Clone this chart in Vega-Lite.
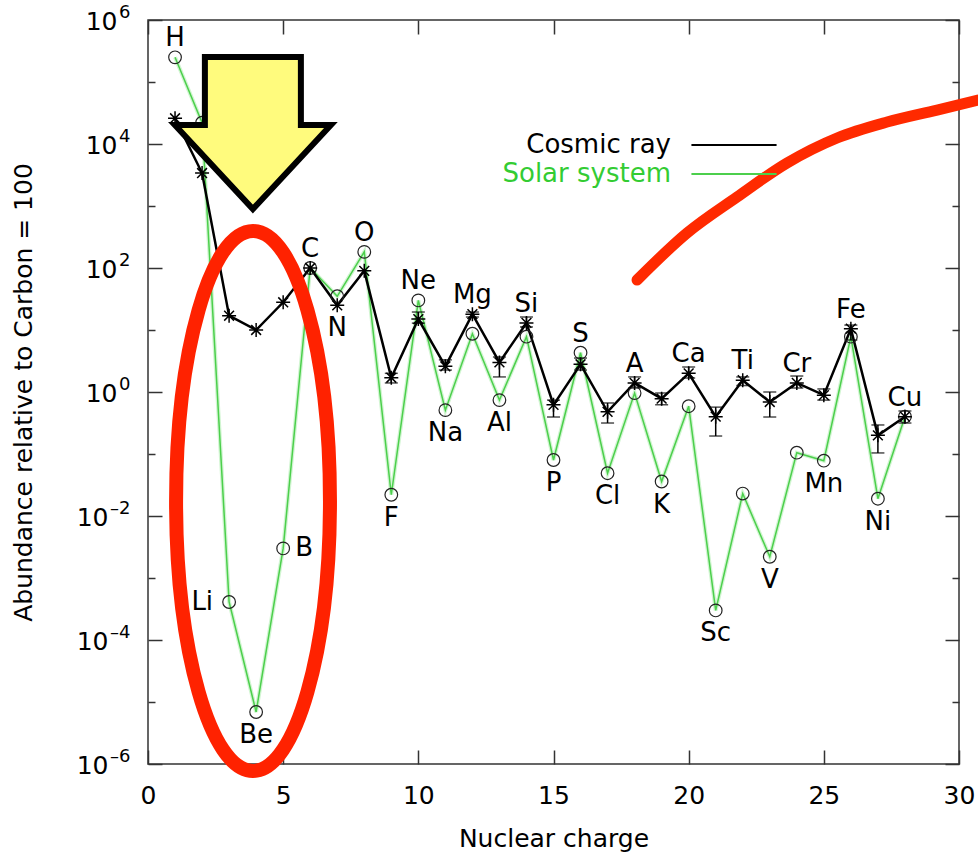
{
  "$schema": "https://vega.github.io/schema/vega-lite/v6.json",
  "width": 811,
  "height": 744,
  "autosize": {"type": "none"},
  "padding": {"left": 148, "top": 20, "right": 19, "bottom": 93},
  "background": "white",
  "datasets": {
    "elements": [
      {"Z": 1, "el": "H", "solar": 250000, "cosmic": 26000, "lo": null, "hi": null, "side": "above"},
      {"Z": 2, "el": "He", "solar": 22000, "cosmic": 3400, "lo": null, "hi": null, "side": "none"},
      {"Z": 3, "el": "Li", "solar": 0.00041, "cosmic": 17, "lo": null, "hi": null, "side": "left"},
      {"Z": 4, "el": "Be", "solar": 0.0000069, "cosmic": 10, "lo": null, "hi": null, "side": "below"},
      {"Z": 5, "el": "B", "solar": 0.003, "cosmic": 28, "lo": null, "hi": null, "side": "right"},
      {"Z": 6, "el": "C", "solar": 100, "cosmic": 100, "lo": null, "hi": null, "side": "above"},
      {"Z": 7, "el": "N", "solar": 35, "cosmic": 25, "lo": null, "hi": null, "side": "below"},
      {"Z": 8, "el": "O", "solar": 182, "cosmic": 90, "lo": null, "hi": null, "side": "above"},
      {"Z": 9, "el": "F", "solar": 0.022, "cosmic": 1.7, "lo": 1.4, "hi": 2.0, "side": "below"},
      {"Z": 10, "el": "Ne", "solar": 30, "cosmic": 15, "lo": 12.9, "hi": 19.5, "side": "above"},
      {"Z": 11, "el": "Na", "solar": 0.51, "cosmic": 2.6, "lo": 2.26, "hi": 3.3, "side": "below"},
      {"Z": 12, "el": "Mg", "solar": 8.7, "cosmic": 18, "lo": 16.2, "hi": 19.5, "side": "above"},
      {"Z": 13, "el": "Al", "solar": 0.74, "cosmic": 3.0, "lo": 1.75, "hi": 3.67, "side": "below"},
      {"Z": 14, "el": "Si", "solar": 7.8, "cosmic": 13, "lo": 11.2, "hi": 16.2, "side": "above"},
      {"Z": 15, "el": "P", "solar": 0.08, "cosmic": 0.62, "lo": 0.395, "hi": 0.74, "side": "below"},
      {"Z": 16, "el": "S", "solar": 4.3, "cosmic": 2.8, "lo": 2.26, "hi": 3.53, "side": "above"},
      {"Z": 17, "el": "Cl", "solar": 0.049, "cosmic": 0.48, "lo": 0.316, "hi": 0.665, "side": "below"},
      {"Z": 18, "el": "A", "solar": 0.96, "cosmic": 1.4, "lo": 1.16, "hi": 1.75, "side": "above"},
      {"Z": 19, "el": "K", "solar": 0.036, "cosmic": 0.78, "lo": 0.62, "hi": 0.96, "side": "below"},
      {"Z": 20, "el": "Ca", "solar": 0.59, "cosmic": 2.0, "lo": 1.68, "hi": 2.53, "side": "above"},
      {"Z": 21, "el": "Sc", "solar": 0.0003, "cosmic": 0.40, "lo": 0.195, "hi": 0.57, "side": "below"},
      {"Z": 22, "el": "Ti", "solar": 0.023, "cosmic": 1.55, "lo": 1.27, "hi": 1.75, "side": "above"},
      {"Z": 23, "el": "V", "solar": 0.0022, "cosmic": 0.69, "lo": 0.395, "hi": 1.0, "side": "below"},
      {"Z": 24, "el": "Cr", "solar": 0.105, "cosmic": 1.4, "lo": 1.16, "hi": 1.81, "side": "above"},
      {"Z": 25, "el": "Mn", "solar": 0.078, "cosmic": 0.89, "lo": 0.74, "hi": 1.12, "side": "below"},
      {"Z": 26, "el": "Fe", "solar": 7.8, "cosmic": 10.5, "lo": 6.9, "hi": 12.0, "side": "above"},
      {"Z": 27, "el": "Ni", "solar": 0.019, "cosmic": 0.20, "lo": 0.104, "hi": 0.294, "side": "below"},
      {"Z": 28, "el": "Cu", "solar": 0.40, "cosmic": 0.40, "lo": 0.316, "hi": 0.494, "side": "above"}
    ],
    "annotations": [
      {"item": "ellipse", "Z": 3.885, "v": 0.01746},
      {"item": "arrow", "Z": 3.88, "v": 16800}
    ],
    "scribble": [
      {"Z": 18.09, "v": 64},
      {"Z": 19.94, "v": 367},
      {"Z": 21.79, "v": 1397},
      {"Z": 23.64, "v": 4943},
      {"Z": 25.49, "v": 12500},
      {"Z": 27.34, "v": 22600},
      {"Z": 29.19, "v": 35300},
      {"Z": 30.71, "v": 51300}
    ]
  },
  "config": {
    "view": {"stroke": "#333333", "strokeWidth": 1.5},
    "axis": {
      "domain": false, "grid": false, "zindex": 1,
      "labelFont": "DejaVu Sans", "labelFontSize": 25, "labelColor": "#000000",
      "titleFont": "DejaVu Sans", "titleFontSize": 25, "titleFontWeight": "normal", "titleColor": "#000000",
      "tickColor": "#333333", "tickWidth": 1.5,
      "labelFlush": false, "labelOverlap": false, "labelBound": false
    },
    "text": {"font": "DejaVu Sans"}
  },
  "resolve": {"axis": {"x": "independent", "y": "independent"}},
  "layer": [
    {
      "data": {"name": "elements"},
      "mark": {"type": "line", "color": "#66dd66", "strokeWidth": 4, "opacity": 0.3},
      "encoding": {
        "x": {"field": "Z", "type": "quantitative", "scale": {"domain": [0, 30], "nice": false, "zero": false},
          "axis": {"orient": "bottom", "values": [0, 5, 10, 15, 20, 25, 30], "tickSize": -14, "labelPadding": 33, "title": "Nuclear charge", "titlePadding": 18}},
        "y": {"field": "solar", "type": "quantitative", "scale": {"type": "log", "domain": [0.000001, 1000000], "nice": false},
          "axis": {"orient": "left",
            "values": [0.000001, 0.00001, 0.0001, 0.001, 0.01, 0.1, 1, 10, 100, 1000, 10000, 100000, 1000000],
            "tickSize": {"condition": {"test": "round(log(datum.value)/LN10) % 2 == 0", "value": -14}, "value": -7},
            "labels": false, "title": null}}
      }
    },
    {
      "data": {"name": "elements"},
      "mark": {"type": "line", "strokeWidth": 1.5},
      "encoding": {
        "x": {"field": "Z", "type": "quantitative", "scale": {"domain": [0, 30], "nice": false, "zero": false}, "axis": null},
        "y": {"field": "solar", "type": "quantitative", "scale": {"type": "log", "domain": [0.000001, 1000000], "nice": false},
          "axis": {"orient": "left",
            "values": [0.000001, 0.0001, 0.01, 1, 100, 10000, 1000000],
            "ticks": false, "tickSize": 0,
            "labelExpr": "'10'",
            "labelPadding": {"condition": {"test": "datum.value < 0.5", "value": 40}, "value": 31},
            "labelBaseline": "middle", "labelOffset": 1,
            "title": "Abundance relative to Carbon = 100", "titlePadding": 40}},
        "color": {"datum": "Solar system",
          "scale": {"domain": ["Cosmic ray", "Solar system"], "range": ["#000000", "#4ccf4c"]},
          "legend": {"orient": "none", "legendX": 573, "legendY": 112, "title": null, "padding": 0,
            "symbolType": "M-5,0L5,0", "symbolSize": 290, "symbolStrokeWidth": 2,
            "labelFont": "DejaVu Sans", "labelFontSize": 26, "labelLimit": 400,
            "labelAlign": "right", "labelOffset": -76, "rowPadding": 3,
            "encode": {"labels": {"update": {"fill": {"signal": "datum.label == 'Solar system' ? '#33cc33' : '#000000'"}}}}}}
      }
    },
    {
      "data": {"name": "elements"},
      "mark": {"type": "line", "strokeWidth": 2.5},
      "encoding": {
        "x": {"field": "Z", "type": "quantitative", "scale": {"domain": [0, 30], "nice": false, "zero": false},
          "axis": {"orient": "top", "values": [0, 5, 10, 15, 20, 25, 30], "tickSize": -14, "labels": false, "title": null}},
        "y": {"field": "cosmic", "type": "quantitative", "scale": {"type": "log", "domain": [0.000001, 1000000], "nice": false},
          "axis": {"orient": "right",
            "values": [0.000001, 0.00001, 0.0001, 0.001, 0.01, 0.1, 1, 10, 100, 1000, 10000, 100000, 1000000],
            "tickSize": {"condition": {"test": "round(log(datum.value)/LN10) % 2 == 0", "value": -14}, "value": -7},
            "labels": false, "title": null}},
        "color": {"datum": "Cosmic ray"}
      }
    },
    {
      "data": {"name": "elements"},
      "transform": [{"filter": "datum.lo != null"}],
      "mark": {"type": "errorbar", "color": "black", "ticks": {"size": 13, "thickness": 1.5, "color": "black"}, "rule": {"strokeWidth": 1.5, "color": "black"}},
      "encoding": {
        "x": {"field": "Z", "type": "quantitative", "scale": {"domain": [0, 30], "nice": false, "zero": false}, "axis": null},
        "y": {"field": "lo", "type": "quantitative", "scale": {"type": "log", "domain": [0.000001, 1000000], "nice": false}, "axis": null},
        "y2": {"field": "hi"}
      }
    },
    {
      "data": {"name": "elements"},
      "mark": {"type": "point", "shape": "circle", "filled": false, "size": 160, "color": "#222222", "strokeWidth": 1.2, "opacity": 1},
      "encoding": {
        "x": {"field": "Z", "type": "quantitative", "scale": {"domain": [0, 30], "nice": false, "zero": false}, "axis": null},
        "y": {"field": "solar", "type": "quantitative", "scale": {"type": "log", "domain": [0.000001, 1000000], "nice": false},
          "axis": {"orient": "left",
            "values": [0.000001, 0.0001, 0.01, 1, 100, 10000, 1000000],
            "ticks": false, "tickSize": 0,
            "labelExpr": "['–6','','–4','','–2','','0','','2','','4','','6'][round(log(datum.value)/LN10)+6]",
            "labelFontSize": 18, "labelPadding": 18,
            "labelBaseline": "middle", "labelOffset": -8,
            "title": null}}
      }
    },
    {
      "data": {"name": "elements"},
      "mark": {"type": "point", "shape": "M-1,0L1,0M0,-1L0,1M-0.7,-0.7L0.7,0.7M-0.7,0.7L0.7,-0.7", "filled": false, "size": 196, "color": "#000000", "strokeWidth": 1.5, "opacity": 1},
      "encoding": {
        "x": {"field": "Z", "type": "quantitative", "scale": {"domain": [0, 30], "nice": false, "zero": false}, "axis": null},
        "y": {"field": "cosmic", "type": "quantitative", "scale": {"type": "log", "domain": [0.000001, 1000000], "nice": false}, "axis": null}
      }
    },
    {
      "data": {"name": "elements"},
      "transform": [{"filter": "datum.side == 'above'"}, {"calculate": "max(datum.solar, datum.cosmic)", "as": "anchor"}],
      "mark": {"type": "text", "font": "DejaVu Sans", "fontSize": 26, "baseline": "middle", "align": "center", "dy": -19, "color": "#000000"},
      "encoding": {
        "x": {"field": "Z", "type": "quantitative", "scale": {"domain": [0, 30], "nice": false, "zero": false}, "axis": null},
        "y": {"field": "anchor", "type": "quantitative", "scale": {"type": "log", "domain": [0.000001, 1000000], "nice": false}, "axis": null},
        "text": {"field": "el"}
      }
    },
    {
      "data": {"name": "elements"},
      "transform": [{"filter": "datum.side == 'below'"}, {"calculate": "min(datum.solar, datum.cosmic)", "as": "anchor"}],
      "mark": {"type": "text", "font": "DejaVu Sans", "fontSize": 26, "baseline": "middle", "align": "center", "dy": 23, "color": "#000000"},
      "encoding": {
        "x": {"field": "Z", "type": "quantitative", "scale": {"domain": [0, 30], "nice": false, "zero": false}, "axis": null},
        "y": {"field": "anchor", "type": "quantitative", "scale": {"type": "log", "domain": [0.000001, 1000000], "nice": false}, "axis": null},
        "text": {"field": "el"}
      }
    },
    {
      "data": {"name": "elements"},
      "transform": [{"filter": "datum.side == 'left'"}],
      "mark": {"type": "text", "font": "DejaVu Sans", "fontSize": 26, "baseline": "middle", "align": "right", "dx": -16, "color": "#000000"},
      "encoding": {
        "x": {"field": "Z", "type": "quantitative", "scale": {"domain": [0, 30], "nice": false, "zero": false}, "axis": null},
        "y": {"field": "solar", "type": "quantitative", "scale": {"type": "log", "domain": [0.000001, 1000000], "nice": false}, "axis": null},
        "text": {"field": "el"}
      }
    },
    {
      "data": {"name": "elements"},
      "transform": [{"filter": "datum.side == 'right'"}],
      "mark": {"type": "text", "font": "DejaVu Sans", "fontSize": 26, "baseline": "middle", "align": "left", "dx": 12, "color": "#000000"},
      "encoding": {
        "x": {"field": "Z", "type": "quantitative", "scale": {"domain": [0, 30], "nice": false, "zero": false}, "axis": null},
        "y": {"field": "solar", "type": "quantitative", "scale": {"type": "log", "domain": [0.000001, 1000000], "nice": false}, "axis": null},
        "text": {"field": "el"}
      }
    },
    {
      "data": {"name": "annotations"},
      "transform": [{"filter": "datum.item == 'ellipse'"}],
      "mark": {"type": "point", "shape": "M0,-1A0.285,1,0,1,1,0,1A0.285,1,0,1,1,0,-1Z", "filled": false, "size": 291600, "color": "#ff2200", "strokeWidth": 14, "opacity": 1},
      "encoding": {
        "x": {"field": "Z", "type": "quantitative", "scale": {"domain": [0, 30], "nice": false, "zero": false}, "axis": null},
        "y": {"field": "v", "type": "quantitative", "scale": {"type": "log", "domain": [0.000001, 1000000], "nice": false}, "axis": null}
      }
    },
    {
      "data": {"name": "annotations"},
      "transform": [{"filter": "datum.item == 'arrow'"}],
      "mark": {"type": "point", "shape": "M-0.48,-0.73L0.48,-0.73L0.48,-0.05L0.78,-0.05L0,0.79L-0.78,-0.05L-0.48,-0.05Z", "filled": true, "size": 40000, "color": "#fffb7d", "stroke": "#000000", "strokeWidth": 6, "strokeJoin": "miter", "opacity": 1},
      "encoding": {
        "x": {"field": "Z", "type": "quantitative", "scale": {"domain": [0, 30], "nice": false, "zero": false}, "axis": null},
        "y": {"field": "v", "type": "quantitative", "scale": {"type": "log", "domain": [0.000001, 1000000], "nice": false}, "axis": null}
      }
    },
    {
      "data": {"name": "scribble"},
      "mark": {"type": "line", "interpolate": "monotone", "strokeWidth": 11, "color": "#ff2a00", "strokeCap": "round"},
      "encoding": {
        "x": {"field": "Z", "type": "quantitative", "scale": {"domain": [0, 30], "nice": false, "zero": false}, "axis": null},
        "y": {"field": "v", "type": "quantitative", "scale": {"type": "log", "domain": [0.000001, 1000000], "nice": false}, "axis": null}
      }
    }
  ]
}
